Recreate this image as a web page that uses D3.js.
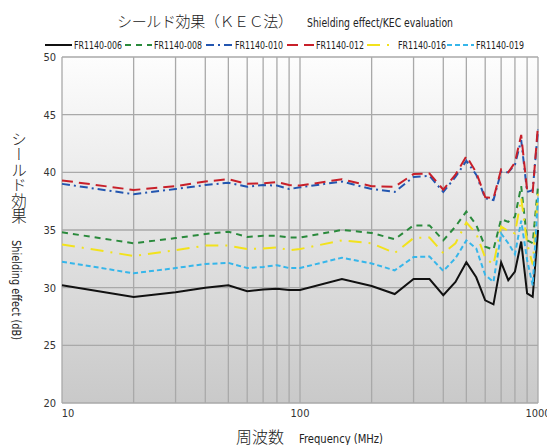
<!DOCTYPE html>
<html>
<head>
<meta charset="utf-8">
<script src="https://cdn.jsdelivr.net/npm/d3@7"></script>
<style>
  body { margin: 0; background: #fff; }
  svg { display: block; }
  .cond { font-family: "DejaVu Sans Condensed", "Liberation Sans Narrow", sans-serif; }
  .jp { font-family: "Noto Sans CJK JP", sans-serif; font-weight: 300; }
</style>
</head>
<body>
<div id="chart"></div>
<script>
// frequencies (MHz)
var freqs = [10, 20, 30, 40, 50, 60, 70, 80, 90, 100, 150, 200, 250, 300, 350, 400,
             450, 500, 550, 600, 650, 700, 750, 800, 850, 900, 950, 1000];

// shielding effect (dB), one list per grade
var fr006 = [30.2, 29.2, 29.6, 30.0, 30.2, 29.7, 29.85, 29.9, 29.8, 29.8, 30.75, 30.15, 29.45, 30.75,
             30.75, 29.35, 30.5, 32.2, 30.9, 28.9, 28.55, 32.2, 30.65, 31.4, 34.0, 29.5, 29.2, 35.0];
var fr008 = [34.8, 33.85, 34.3, 34.65, 34.85, 34.4, 34.5, 34.5, 34.35, 34.35, 35.0, 34.75, 34.2, 35.4,
             35.4, 34.1, 35.3, 36.6, 35.45, 33.55, 33.3, 35.95, 35.7, 36.15, 38.8, 34.1, 33.85, 38.8];
var fr010 = [39.0, 38.1, 38.55, 38.9, 39.1, 38.75, 38.9, 38.85, 38.55, 38.7, 39.2, 38.55, 38.3, 39.6,
             39.7, 38.3, 39.6, 41.0, 39.8, 37.75, 37.6, 40.05, 40.0, 40.65, 42.8, 38.3, 38.45, 43.7];
var fr012 = [39.3, 38.47, 38.8, 39.2, 39.4, 39.0, 39.05, 39.15, 38.9, 38.85, 39.4, 38.8, 38.75, 39.85,
             39.9, 38.5, 39.8, 41.4, 40.0, 37.85, 37.75, 40.25, 40.0, 40.85, 43.25, 38.45, 38.3, 44.1];
var fr016 = [33.75, 32.75, 33.25, 33.65, 33.65, 33.35, 33.4, 33.5, 33.25, 33.35, 34.1, 33.85, 33.0, 34.3,
             34.35, 33.0, 33.85, 35.65, 34.7, 32.6, 32.0, 35.3, 34.9, 34.7, 37.75, 33.85, 32.0, 38.3];
var fr019 = [32.25, 31.25, 31.7, 32.05, 32.15, 31.7, 31.8, 31.95, 31.7, 31.7, 32.6, 32.1, 31.5, 32.65,
             32.7, 31.45, 32.55, 34.1, 33.4, 31.1, 30.5, 34.7, 33.85, 32.9, 35.8, 32.4, 30.2, 37.8];

var seriesNames = ["FR1140-006", "FR1140-008", "FR1140-010", "FR1140-012", "FR1140-016", "FR1140-019"];
var seriesValues = [fr006, fr008, fr010, fr012, fr016, fr019];
var seriesColors = ["#111111", "#2a8a3c", "#2356b0", "#c8202a", "#f2e21c", "#36b6ea"];
var seriesDash = ["none", "6,5", "8,4,2,4", "11,6", "13,7,2,7", "5,3"];

var yTicks = [20, 25, 30, 35, 40, 45, 50];
var xLabelTicks = [10, 100, 1000];
var xGridTicks = [20, 30, 40, 50, 60, 70, 80, 90, 100, 200, 300, 400, 500, 600, 700, 800, 900, 1000];

(function() {
  var width = 547;
  var height = 445;
  var margin = {top: 57, right: 9, bottom: 42, left: 62};

  var svg = d3.select("#chart").append("svg")
      .attr("width", width)
      .attr("height", height);

  var x = d3.scaleLog().domain([10, 1000]).range([margin.left, width - margin.right]);
  var y = d3.scaleLinear().domain([20, 50]).range([height - margin.bottom, margin.top]);

  // background gradient of plot area
  var grad = svg.append("defs").append("linearGradient")
      .attr("id", "bg").attr("x1", 0).attr("x2", 0).attr("y1", 0).attr("y2", 1);
  grad.append("stop").attr("offset", "0%").attr("stop-color", "#fdfdfd");
  grad.append("stop").attr("offset", "100%").attr("stop-color", "#c9c9c9");

  svg.append("rect")
      .attr("x", x(10)).attr("y", y(50))
      .attr("width", x(1000) - x(10)).attr("height", y(20) - y(50))
      .attr("fill", "url(#bg)");

  // grid
  var grid = svg.append("g").attr("stroke", "#a9a9a9").attr("stroke-width", 1.3);
  grid.selectAll("line.h").data(yTicks).enter().append("line")
      .attr("x1", x(10)).attr("x2", x(1000))
      .attr("y1", d => y(d)).attr("y2", d => y(d));
  grid.selectAll("line.v").data([10].concat(xGridTicks)).enter().append("line")
      .attr("y1", y(20)).attr("y2", y(50))
      .attr("x1", d => x(d)).attr("x2", d => x(d));

  // tick labels
  svg.append("g").attr("class", "cond")
      .style("font-size", "11px").attr("fill", "#333")
    .selectAll("text").data(yTicks).enter().append("text")
      .attr("x", x(10) - 6).attr("y", d => y(d)).attr("dy", "0.35em")
      .attr("text-anchor", "end")
      .text(d => d);

  svg.append("g").attr("class", "cond")
      .style("font-size", "11px").attr("fill", "#333")
    .selectAll("text").data(xLabelTicks).enter().append("text")
      .attr("x", d => x(d) + (d === 10 ? 6 : 0)).attr("y", y(20) + 14)
      .attr("text-anchor", "middle")
      .text(d => d);

  // series
  var line = d3.line().x((d, i) => x(freqs[i])).y(d => y(d));
  svg.append("g").attr("fill", "none")
    .selectAll("path").data(seriesValues).enter().append("path")
      .attr("d", d => line(d))
      .attr("stroke", (d, i) => seriesColors[i])
      .attr("stroke-width", 2)
      .attr("stroke-dasharray", (d, i) => seriesDash[i]);

  // title
  svg.append("text").attr("class", "jp")
      .attr("x", 117).attr("y", 27).attr("fill", "#222")
      .style("font-size", "15px")
      .attr("textLength", 176).attr("lengthAdjust", "spacing")
      .text("シールド効果（ＫＥＣ法）");
  svg.append("text").attr("class", "cond")
      .attr("x", 307).attr("y", 27).attr("fill", "#222")
      .style("font-size", "13px")
      .attr("textLength", 146).attr("lengthAdjust", "spacingAndGlyphs")
      .text("Shielding effect/KEC evaluation");

  // legend
  var legendX = [45, 125, 206, 287, 367, 447];
  var legend = svg.append("g").selectAll("g").data(seriesNames).enter().append("g")
      .attr("transform", (d, i) => "translate(" + legendX[i] + ",45)");
  legend.append("line")
      .attr("x1", 0).attr("x2", 27)
      .attr("stroke", (d, i) => seriesColors[i])
      .attr("stroke-width", 2)
      .attr("stroke-dasharray", (d, i) => seriesDash[i]);
  legend.append("text").attr("class", "cond")
      .attr("x", (d, i) => i === 4 ? 31 : 29).attr("dy", "0.35em")
      .style("font-size", "11px").attr("fill", "#222")
      .attr("textLength", 48).attr("lengthAdjust", "spacingAndGlyphs")
      .text(d => d);

  // y axis title: Japanese set vertically, English rotated
  svg.append("text").attr("class", "jp")
      .attr("x", 19).attr("y", 131)
      .style("writing-mode", "vertical-rl")
      .style("font-size", "15.5px").attr("fill", "#222")
      .text("シールド効果");
  svg.append("text").attr("class", "cond")
      .attr("transform", "translate(12,240) rotate(90)")
      .style("font-size", "12.5px").attr("fill", "#222")
      .attr("textLength", 100).attr("lengthAdjust", "spacingAndGlyphs")
      .text("Shielding effect (dB)");

  // x axis title
  svg.append("text").attr("class", "jp")
      .attr("x", 236).attr("y", 443).attr("fill", "#222")
      .style("font-size", "16px")
      .text("周波数");
  svg.append("text").attr("class", "cond")
      .attr("x", 299).attr("y", 443).attr("fill", "#222")
      .style("font-size", "13px")
      .attr("textLength", 84).attr("lengthAdjust", "spacingAndGlyphs")
      .text("Frequency (MHz)");
})();
</script>
</body>
</html>
